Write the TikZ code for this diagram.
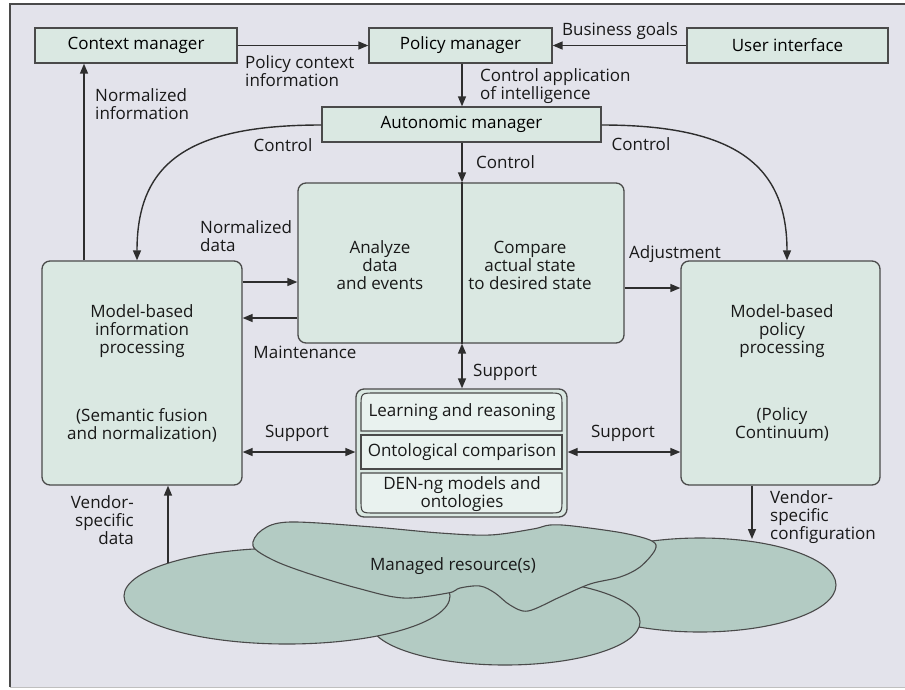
\documentclass[tikz,border=0pt]{standalone}
\usepackage{fontspec}
\setmainfont{Open Sans}
\usetikzlibrary{arrows.meta}
\definecolor{bgc}{HTML}{E3E3EB}
\definecolor{boxc}{HTML}{DAE8E2}
\definecolor{innerc}{HTML}{E9F2EF}
\definecolor{blobc}{HTML}{B3CBC3}
\definecolor{linec}{HTML}{2E2E2E}
\definecolor{edgec}{HTML}{4A4A4A}
\begin{document}
\begin{tikzpicture}[x=1pt,y=-1pt,
  font=\fontsize{17}{18}\selectfont,
  box/.style={draw=edgec, fill=boxc, line width=1.3pt, inner sep=0pt},
  rbox/.style={box, rounded corners=8pt},
  lbl/.style={inner sep=0pt, text=black!90},
  conn/.style={draw=linec, line width=1.4pt},
  arr/.style={conn, -{Triangle[length=10pt,width=8pt]}},
  darr/.style={conn, {Triangle[length=10pt,width=8pt]}-{Triangle[length=10pt,width=8pt]}},
  blob/.style={draw=edgec, fill=blobc, line width=1.1pt}]
\useasboundingbox (0,0) rectangle (905,689);
% frame
\fill[white] (0,0) rectangle (905,689);
\fill[bgc] (10,4) rectangle (905,687);
\draw[edgec, line width=1.2pt] (905,4) -- (10,4) -- (10,687);
\draw[black!25, line width=0.8pt] (10,687) -- (905,687);

% top row of managers
\node[box, minimum width=202pt, minimum height=35pt] (cm) at (136,45.5) {Context manager};
\node[box, minimum width=183pt, minimum height=35pt] (pm) at (460.5,45.5) {Policy manager};
\node[box, minimum width=201pt, minimum height=35pt] (ui) at (787.5,45.5) {User interface};
\node[box, minimum width=279pt, minimum height=35pt] (am) at (461.5,124.5) {Autonomic manager};

% central analysis box
\node[rbox, minimum width=326pt, minimum height=160pt] (cb) at (461,263) {};
\node[lbl, align=center] (an) at (380,265) {Analyze\\data\\and events};
\node[lbl, align=center] (cp) at (530,265) {Compare\\actual state\\to desired state};

% side processing boxes
\node[rbox, minimum width=200pt, minimum height=224pt] (lb) at (142,373) {};
\node[lbl, align=center] (lbt1) at (142,331) {Model-based\\information\\processing};
\node[lbl, align=center] (lbt2) at (142,425) {(Semantic fusion\\and normalization)};
\node[rbox, minimum width=199pt, minimum height=224pt] (rb) at (780.5,373) {};
\node[lbl, align=center] (rbt1) at (782,331) {Model-based\\policy\\processing};
\node[lbl, align=center] (rbt2) at (782,424) {(Policy\\Continuum)};

% knowledge stack
\node[rbox, minimum width=211pt, minimum height=128pt] (ks) at (461.5,453) {};
\draw[draw=edgec, fill=innerc, line width=1.1pt] (361,431) -- (361,407) .. controls (361,393) .. (375,393) -- (548,393) .. controls (562,393) .. (562,407) -- (562,431) -- cycle;
\draw[draw=edgec, fill=innerc, line width=1.1pt] (361,435) rectangle (562,469);
\draw[draw=edgec, fill=innerc, line width=1.1pt] (361,473) -- (562,473) -- (562,499) .. controls (562,513) .. (548,513) -- (375,513) .. controls (361,513) .. (361,499) -- cycle;
\node[lbl] (k1) at (462,412) {Learning and reasoning};
\node[lbl] (k2) at (462,452) {Ontological comparison};
\node[lbl, align=center] (k3) at (462,494) {DEN-ng models and\\ontologies};

% managed resources
\draw[blob] (700,585) ellipse [x radius=136, y radius=47];
\draw[blob] (505,622) ellipse [x radius=135, y radius=43];
\draw[blob] (287,596) ellipse [x radius=163, y radius=48];
\draw[blob] plot[smooth cycle, tension=0.55] coordinates {
  (253,546) (262,530) (290,522) (373,527) (440,533) (490,535) (533,529)
  (550,525) (573,526) (623,533) (652,541) (655,550) (640,567) (620,577)
  (590,584) (560,597) (528,611) (510,605) (495,593) (480,586) (460,588)
  (448,593) (403,598) (357,588) (307,573) (273,560)};
\node[lbl] (mr) at (453,566) {Managed resource(s)};

% reference levels and columns
\coordinate (xc) at (462,0);
\coordinate (xni) at (84,0);
\coordinate (ynd) at (0,282);
\coordinate (ymt) at (0,318);
\coordinate (yad) at (0,288);
\coordinate (ysp) at (0,452);
\coordinate (xvd) at (168,0);
\coordinate (xvc) at (752,0);
\coordinate (vdfoot) at (168,563);
\coordinate (vctip) at (752,539);
\coordinate (xlc) at (137,0);
\coordinate (xrc) at (787,0);
\coordinate (yac) at (0,125);

% connectors
\draw[arr] (cm.east) -- (pm.west);
\draw[arr] (ui.west) -- (pm.east);
\draw[arr] (pm.south -| xc) -- (am.north -| xc);
\draw[arr] (am.south -| xc) -- (cb.north -| xc);
\draw[conn] (cb.north -| xc) -- (cb.south -| xc);
\draw[darr] (cb.south -| xc) -- (ks.north -| xc);
\draw[arr] (lb.north -| xni) -- (cm.south -| xni);
\draw[arr] (am.west |- yac) .. controls (185,125) and (137,165) .. (lb.north -| xlc);
\draw[arr] (am.east |- yac) .. controls (735,125) and (787,165) .. (rb.north -| xrc);
\draw[arr] (lb.east |- ynd) -- (cb.west |- ynd);
\draw[arr] (cb.west |- ymt) -- (lb.east |- ymt);
\draw[arr] (cb.east |- yad) -- (rb.west |- yad);
\draw[darr] (lb.east |- ysp) -- (ks.west |- ysp);
\draw[darr] (ks.east |- ysp) -- (rb.west |- ysp);
\draw[arr] (vdfoot) -- (lb.south -| xvd);
\draw[arr] (rb.south -| xvc) -- (vctip);

% connector labels
\node[lbl, anchor=west, align=left] (l1) at (245,71) {Policy context\\information};
\node[lbl] (l2) at (620,31) {Business goals};
\node[lbl, anchor=west, align=left] (l3) at (480,86) {Control application\\of intelligence};
\node[lbl, anchor=west, align=left] (l4) at (95,104) {Normalized\\information};
\node[lbl] (l5) at (283,145) {Control};
\node[lbl, anchor=west] (l6) at (476,162) {Control};
\node[lbl] (l7) at (641,144) {Control};
\node[lbl, anchor=west, align=left] (l8) at (200,236) {Normalized\\data};
\node[lbl] (l9) at (305,352) {Maintenance};
\node[lbl] (l10) at (675,254) {Adjustment};
\node[lbl, anchor=west] (l11) at (473,372) {Support};
\node[lbl] (l12) at (297,433) {Support};
\node[lbl] (l13) at (623,433) {Support};
\node[lbl, anchor=east, align=right] (l14) at (134,520) {Vendor-\\specific\\data};
\node[lbl, anchor=west, align=left] (l15) at (770,517) {Vendor-\\specific\\configuration};
\end{tikzpicture}
\end{document}
